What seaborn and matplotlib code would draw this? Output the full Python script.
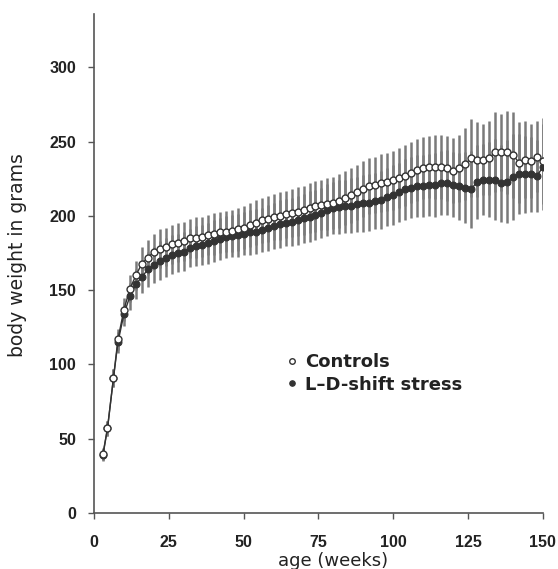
import matplotlib
matplotlib.use("Agg")
import matplotlib.pyplot as plt
import seaborn as sns

# age in weeks at each weighing
weeks = [3, 4.5, 6.5, 8, 10, 12, 14, 16, 18, 20, 22, 24, 26, 28, 30, 32, 34, 36, 38, 40,
         42, 44, 46, 48, 50, 52, 54, 56, 58, 60, 62, 64, 66, 68, 70, 72, 74, 76, 78, 80,
         82, 84, 86, 88, 90, 92, 94, 96, 98, 100, 102, 104, 106, 108, 110, 112, 114, 116,
         118, 120, 122, 124, 126, 128, 130, 132, 134, 136, 138, 140, 142, 144, 146, 148, 150]

# mean body weight (g)
controls = [40, 57, 91, 117, 137, 151, 160, 168, 172, 176, 178, 179, 181, 182, 183, 185,
            185.5, 186, 187, 188, 189, 189.5, 190, 191, 192, 194, 195.5, 197, 198, 199,
            200, 201, 202, 203, 204, 205.5, 206.5, 207.5, 208, 209, 210, 212, 214, 216,
            218, 220, 221, 222, 223, 224, 225.5, 227, 229, 231, 232.5, 233, 233, 233, 232,
            230.5, 232, 235, 239, 238, 238, 239, 243, 243, 243, 241, 236, 238, 237, 240, 237]
stress = [39, 57, 91, 115, 134, 146, 154, 159, 164, 167, 170, 172, 174, 175, 176, 178.5,
          179.5, 180.5, 181.5, 183, 184.5, 186, 186.5, 187, 188, 189, 189.5, 190.5, 192,
          193, 194.5, 195.5, 196, 197, 198.5, 199.5, 200.5, 202, 204, 205.5, 206, 206.5,
          207, 208, 208.5, 209, 210, 211, 212.5, 214, 216, 218, 219, 220, 220, 221, 221,
          222, 222.5, 221, 220, 219, 218, 223, 224.5, 224.5, 224.5, 222, 223, 226.5, 228,
          228, 228, 227, 233]
# standard deviation (g)
sd = [4, 5, 6, 7, 8, 9, 10, 11, 12, 12, 13, 13, 13, 13, 13, 13, 13.5, 13.5, 13.5, 14,
      14, 14, 14, 14.5, 14.5, 15, 15, 15, 15.5, 15.5, 16, 16, 16, 16.5, 16.5, 17, 17, 17,
      17.5, 17.5, 18, 18, 18.5, 18.5, 19, 19, 19, 19.5, 19.5, 20, 20, 20.5, 20.5, 21, 21,
      21, 21.5, 21.5, 22, 22, 22.5, 24, 26, 25, 24, 25, 27, 26, 28, 29, 27, 26, 25, 24, 29]

sns.set_style("ticks")
plt.rcParams["font.family"] = ["DejaVu Sans"]

dark = "#333333"
fig = plt.figure(figsize=(5.58, 5.69), dpi=100)
ax = fig.add_axes([0.1685, 0.0984, 0.8045, 0.8770])

# error bars behind the points
ax.errorbar(weeks, stress, yerr=sd, fmt="none", ecolor="#7a7a7a", elinewidth=1.8, zorder=1)
ax.errorbar(weeks, controls, yerr=sd, fmt="none", ecolor="#7a7a7a", elinewidth=1.8, zorder=1)

sns.lineplot(x=weeks, y=stress, ax=ax, color=dark, linewidth=1, marker="o",
             markersize=5, markerfacecolor=dark, markeredgecolor=dark,
             label="L\u2013D-shift stress", zorder=3)
sns.lineplot(x=weeks, y=controls, ax=ax, color=dark, linewidth=1, marker="o",
             markersize=5, markerfacecolor="white", markeredgecolor=dark,
             markeredgewidth=1, label="Controls", zorder=4)

ax.set_xlim(0, 150)
ax.set_ylim(0, 336)
ax.set_xticks([0, 25, 50, 75, 100, 125, 150])
ax.set_yticks([0, 50, 100, 150, 200, 250, 300])
sns.despine(ax=ax)
for s in ["left", "bottom"]:
    ax.spines[s].set_color("#555555")
    ax.spines[s].set_linewidth(1.2)
ax.tick_params(axis="both", direction="out", length=4, width=1, color="#555555",
               labelcolor="#222222")
ax.tick_params(axis="y", pad=9)
ax.tick_params(axis="x", pad=12)
for lab in ax.get_xticklabels() + ax.get_yticklabels():
    lab.set_family(["Liberation Sans", "DejaVu Sans"])
    lab.set_fontweight("bold")
    lab.set_fontsize(11.5)

ax.set_xlabel("age (weeks)", fontsize=13, color="#222222")
ax.set_ylabel("body weight in grams", fontsize=13.5, color="#222222")
ax.xaxis.set_label_coords(0.533, -0.078)
ax.yaxis.set_label_coords(-0.15, 0.517)

handles, labels = ax.get_legend_handles_labels()
leg = ax.legend(handles[::-1], labels[::-1], loc="center left",
                bbox_to_anchor=(0.405, 0.28), frameon=False, handlelength=0,
                handletextpad=0.7, labelspacing=0.25, markerscale=0.8,
                prop={"size": 13, "weight": "bold"})
for t in leg.get_texts():
    t.set_color("#222222")

fig.savefig("out.png", dpi=100)
